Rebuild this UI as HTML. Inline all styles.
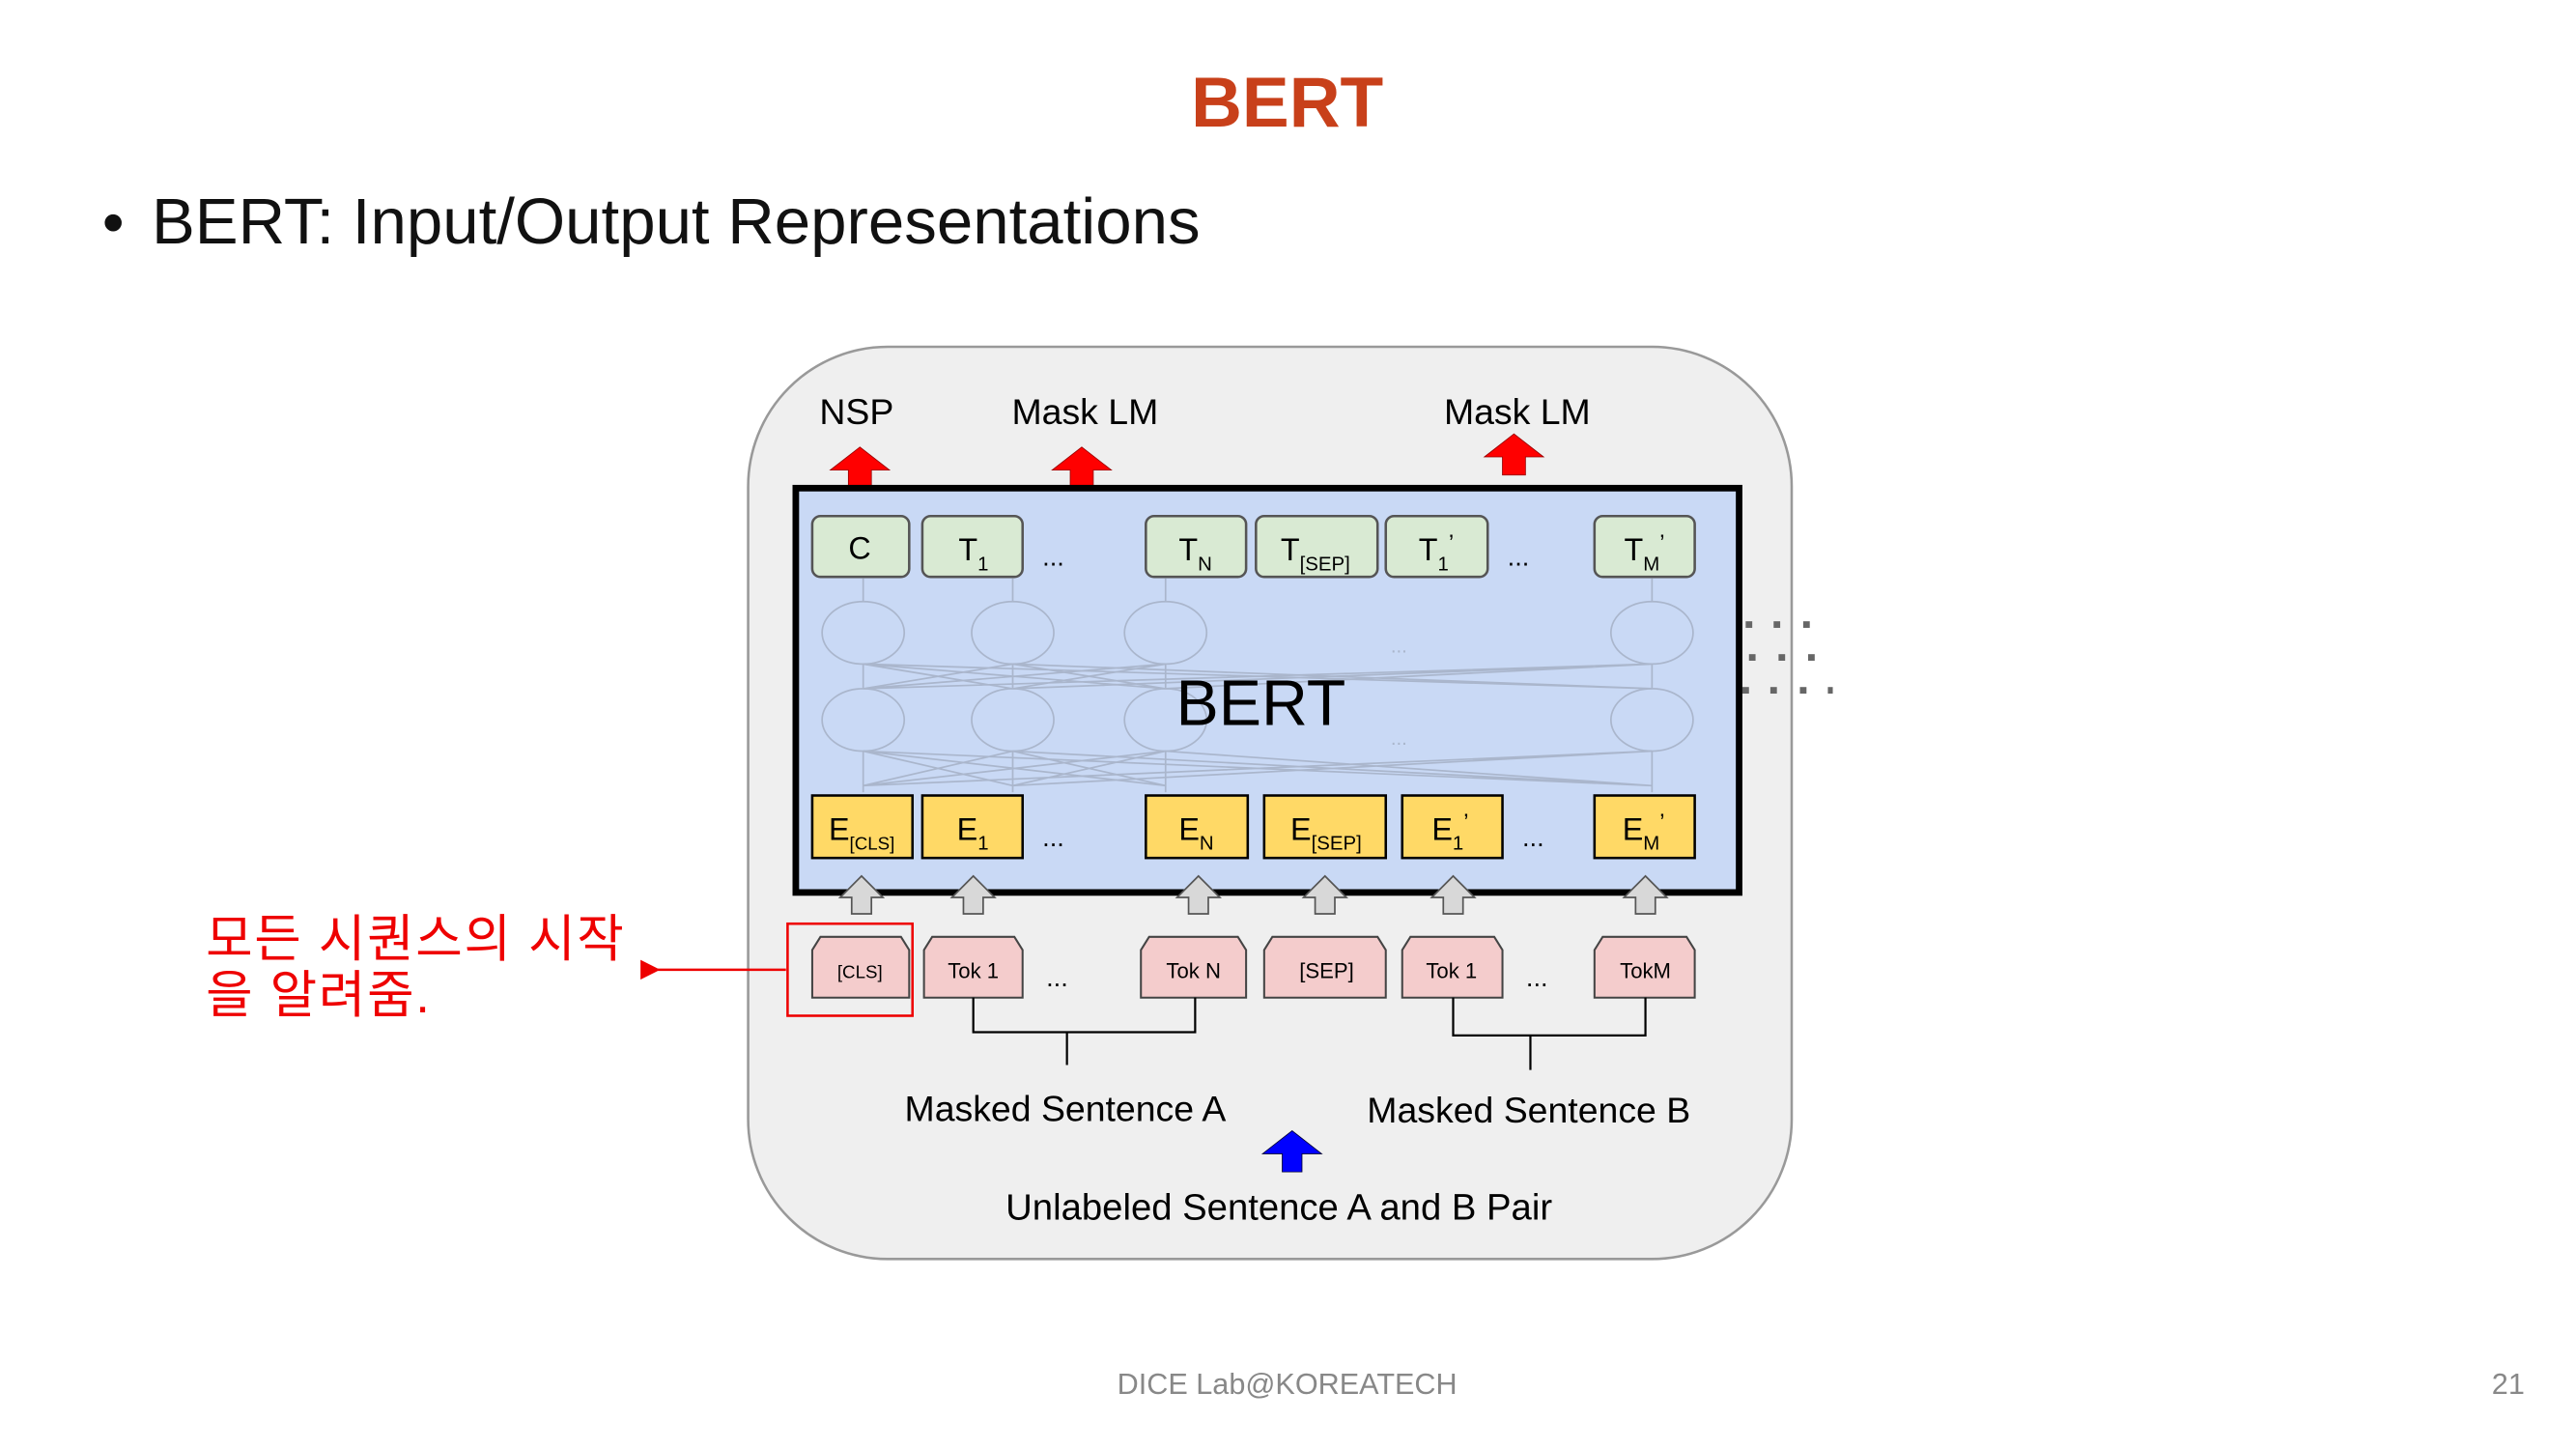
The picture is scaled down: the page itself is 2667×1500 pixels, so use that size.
<!DOCTYPE html>
<html><head><meta charset="utf-8"><style>
html,body{margin:0;padding:0;background:#fff;}
svg{display:block;}
text{font-family:"Liberation Sans","Noto Sans CJK KR",sans-serif;}
</style></head><body>
<svg width="2667" height="1500" viewBox="0 0 1567 881.6" xmlns="http://www.w3.org/2000/svg">
<defs>
<marker id="ah" markerWidth="8" markerHeight="8" refX="1" refY="4" orient="auto"><path d="M8,0 L0,4 L8,8 z" fill="#e00"/></marker>
</defs>
<text x="783" y="77" font-size="43" font-weight="bold" fill="#c8401a" text-anchor="middle">BERT</text>
<text x="62" y="148" font-size="38" fill="#111">•</text>
<text x="92" y="148" font-size="39.5" fill="#111">BERT: Input/Output Representations</text>

<rect x="455" y="211" width="635" height="555" rx="85" ry="85" fill="#efefef" stroke="#999" stroke-width="1.5"/>

<g font-size="22" fill="#000" text-anchor="middle">
<text x="521" y="258">NSP</text><text x="660" y="258">Mask LM</text><text x="923" y="258">Mask LM</text>
</g>
<g fill="#f00" stroke="#900" stroke-width="0.5">
<path d="M516,297 V286 H505 L523,272 L541,286 H530 V297 z"/>
<path d="M651,297 V286 H640 L658,272 L676,286 H665 V297 z"/>
<path d="M914,289 V278 H903 L921,264 L939,278 H928 V289 z"/>
</g>

<rect x="484" y="297" width="574" height="246" fill="#c9d9f5" stroke="#000" stroke-width="4"/>

<g fill="none" stroke="#aab6cc" stroke-width="1">
<ellipse cx="525" cy="385" rx="25" ry="19"/><ellipse cx="616" cy="385" rx="25" ry="19"/><ellipse cx="709" cy="385" rx="25" ry="19"/><ellipse cx="1005" cy="385" rx="25" ry="19"/>
<ellipse cx="525" cy="438" rx="25" ry="19"/><ellipse cx="616" cy="438" rx="25" ry="19"/><ellipse cx="709" cy="438" rx="25" ry="19"/><ellipse cx="1005" cy="438" rx="25" ry="19"/>
<path d="M525,404 L616,419 M525,404 L709,419 M525,404 L1005,419 M616,404 L525,419 M616,404 L709,419 M616,404 L1005,419 M709,404 L525,419 M709,404 L616,419 M1005,404 L525,419 M1005,404 L616,419 M1005,404 L709,419"/>
<path d="M525,478 L616,457 M525,478 L709,457 M525,478 L1005,457 M616,478 L525,457 M616,478 L709,457 M616,478 L1005,457 M709,478 L525,457 M709,478 L616,457 M1005,478 L525,457 M1005,478 L616,457 M1005,478 L709,457"/>
<path d="M525,352 V366 M616,352 V366 M709,352 V366 M1005,352 V366 M525,404 V419 M616,404 V419 M709,404 V419 M1005,404 V419 M525,457 V482 M616,457 V482 M709,457 V482 M1005,457 V482"/>
</g>
<text x="851" y="397" font-size="12" fill="#aab6cc" text-anchor="middle">...</text>
<text x="851" y="453" font-size="12" fill="#aab6cc" text-anchor="middle">...</text>
<text x="767" y="441" font-size="39" fill="#000" text-anchor="middle">BERT</text>

<g fill="#d9ead3" stroke="#555" stroke-width="1.5">
<rect x="494" y="314" width="59" height="37" rx="5"/><rect x="561" y="314" width="61" height="37" rx="5"/>
<rect x="697" y="314" width="61" height="37" rx="5"/><rect x="764" y="314" width="74" height="37" rx="5"/>
<rect x="843" y="314" width="62" height="37" rx="5"/><rect x="970" y="314" width="61" height="37" rx="5"/>
</g>
<g font-size="19" fill="#000">
<text x="516" y="340">C</text>
<text x="583" y="341">T<tspan font-size="12" dy="6">1</tspan></text>
<text x="717" y="341">T<tspan font-size="12" dy="6">N</tspan></text>
<text x="779" y="341">T<tspan font-size="12" dy="6">[SEP]</tspan></text>
<text x="863" y="341">T<tspan font-size="12" dy="6">1</tspan><tspan font-size="14" dy="-12">’</tspan></text>
<text x="988" y="341">T<tspan font-size="12" dy="6">M</tspan><tspan font-size="14" dy="-12">’</tspan></text>
<text x="634" y="344" font-size="16">...</text><text x="917" y="344" font-size="16">...</text>
</g>

<g fill="#ffd966" stroke="#000" stroke-width="1.5">
<rect x="494" y="484" width="61" height="38"/><rect x="561" y="484" width="61" height="38"/>
<rect x="697" y="484" width="62" height="38"/><rect x="769" y="484" width="74" height="38"/>
<rect x="853" y="484" width="61" height="38"/><rect x="970" y="484" width="61" height="38"/>
</g>
<g font-size="19" fill="#000">
<text x="504" y="511">E<tspan font-size="11" dy="6">[CLS]</tspan></text>
<text x="582" y="511">E<tspan font-size="12" dy="6">1</tspan></text>
<text x="717" y="511">E<tspan font-size="12" dy="6">N</tspan></text>
<text x="785" y="511">E<tspan font-size="12" dy="6">[SEP]</tspan></text>
<text x="871" y="511">E<tspan font-size="12" dy="6">1</tspan><tspan font-size="14" dy="-12">’</tspan></text>
<text x="987" y="511">E<tspan font-size="12" dy="6">M</tspan><tspan font-size="14" dy="-12">’</tspan></text>
<text x="634" y="515" font-size="16">...</text><text x="926" y="515" font-size="16">...</text>
</g>

<g fill="#d8d8d8" stroke="#555" stroke-width="1">
<path d="M518,556 V546 H511 L524,533 L537,546 H530 V556 z"/>
<path d="M586,556 V546 H579 L592,533 L605,546 H598 V556 z"/>
<path d="M723,556 V546 H716 L729,533 L742,546 H735 V556 z"/>
<path d="M800,556 V546 H793 L806,533 L819,546 H812 V556 z"/>
<path d="M878,556 V546 H871 L884,533 L897,546 H890 V556 z"/>
<path d="M995,556 V546 H988 L1001,533 L1014,546 H1007 V556 z"/>
</g>

<g fill="#f4cccc" stroke="#444" stroke-width="1.2">
<path d="M494,607 V578 L499,570 H548 L553,578 V607 z"/>
<path d="M562,607 V578 L567,570 H617 L622,578 V607 z"/>
<path d="M694,607 V578 L699,570 H753 L758,578 V607 z"/>
<path d="M769,607 V578 L774,570 H838 L843,578 V607 z"/>
<path d="M853,607 V578 L858,570 H909 L914,578 V607 z"/>
<path d="M970,607 V578 L975,570 H1026 L1031,578 V607 z"/>
</g>
<g font-size="13" fill="#000" text-anchor="middle">
<text x="523" y="595" font-size="11">[CLS]</text><text x="592" y="595">Tok 1</text><text x="726" y="595">Tok N</text>
<text x="807" y="595">[SEP]</text><text x="883" y="595">Tok 1</text><text x="1001" y="595">TokM</text>
<text x="643" y="600" font-size="16">...</text><text x="935" y="600" font-size="16">...</text>
</g>
<rect x="479" y="562" width="76" height="56" fill="none" stroke="#e00" stroke-width="1.5"/>
<line x1="478" y1="590" x2="400" y2="590" stroke="#e00" stroke-width="1.5" marker-end="url(#ah)"/>

<g fill="none" stroke="#000" stroke-width="1.3">
<path d="M592,607 V628 H727 V607 M649,628 V648"/>
<path d="M884,607 V630 H1001 V607 M931,630 V651"/>
</g>
<g font-size="22" fill="#000" text-anchor="middle">
<text x="648" y="682">Masked Sentence A</text><text x="930" y="683">Masked Sentence B</text>
<text x="778" y="742" font-size="22.5">Unlabeled Sentence A and B Pair</text>
</g>
<path d="M780,713 V702 H768 L786,688 L804,702 H792 V713 z" fill="#00f" stroke="#003" stroke-width="0.5"/>

<g fill="#666">
<rect x="1062" y="378" width="4" height="4"/><rect x="1079" y="378" width="4" height="4"/><rect x="1097" y="378" width="4" height="4"/>
<rect x="1064" y="398" width="4" height="4"/><rect x="1082" y="398" width="4" height="4"/><rect x="1100" y="398" width="4" height="4"/>
<rect x="1060" y="418" width="4" height="4"/><rect x="1077" y="418" width="4" height="4"/><rect x="1095" y="418" width="4" height="4"/><rect x="1112" y="418" width="3" height="4"/>
</g>

<g font-size="31" fill="#e00" letter-spacing="1">
<text x="125" y="582">모든 시퀀스의 시작</text>
<text x="125" y="616">을 알려줌.</text>
</g>
<text x="783" y="848" font-size="18" fill="#888" text-anchor="middle">DICE Lab@KOREATECH</text>
<text x="1516" y="848" font-size="18" fill="#888">21</text>
</svg>
</body></html>
